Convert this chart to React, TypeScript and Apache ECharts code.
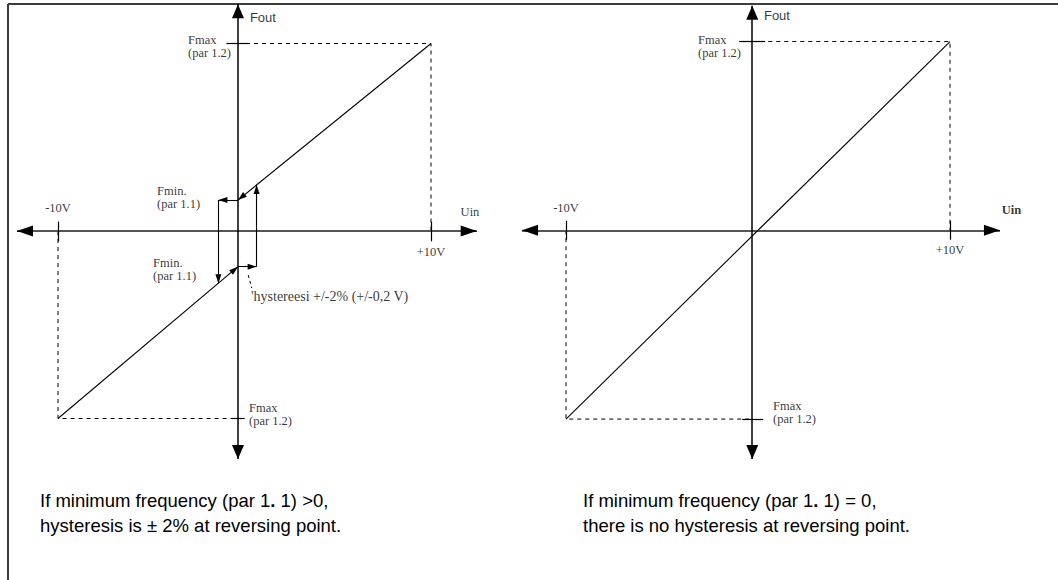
import React, { useEffect, useRef } from 'react';
import * as echarts from 'echarts';

// ---- data (diagram units: x in volts, y in Fout units where Fmax = 10) ----
const uRange = [-10, 10];
const fRange = [-10, 10];
const voltTickLabels = ['-10V', '+10V'];
const leftAxisCross = -0.35; // where the Fout axis crosses Uin (left diagram)
const rightAxisCross = -0.3;
const leftFmin = [-1.9, 1.65]; // Fmin level below / above Uin axis
const leftHyst = [-1.05, 1.0]; // hysteresis box edges relative to the Fout axis
const leftAxisXEnds = [-12.2, 12.45];
const leftAxisYEnds = [-12.16, 12.1];
const rightAxisXEnds = [-12.29, 12.6];
const rightAxisYEnds = [-12.12, 11.9];
const hystPointer = [[0.2, -2.35], [0.39, -3.04]];
const captionLeft = ['If minimum frequency (par 1{b|.} 1) >0,', 'hysteresis is ± 2% at reversing point.'];
const captionRight = ['If minimum frequency (par 1{b|.} 1) = 0,', 'there is no hysteresis at reversing point.'];

const SERIF = '"Liberation Serif", "Times New Roman", serif';
const SANS = '"Liberation Sans", Arial, sans-serif';

type P = [number, number];

function seg(from: P, to: P, o: any) {
  const style = { color: o.color || '#000', width: o.width || 1.2, type: o.type || 'solid' };
  return [
    {
      coord: from,
      symbol: o.fromArrow ? 'triangle' : 'none',
      symbolSize: o.size || [11, 15],
      symbolOffset: [0, '50%'],
      lineStyle: style,
    },
    {
      coord: to,
      symbol: o.toArrow ? 'triangle' : 'none',
      symbolSize: o.size || [11, 15],
      symbolOffset: [0, '50%'],
      lineStyle: style,
    },
  ];
}

function lbl(pos: P, text: string, extra: any = {}) {
  return {
    value: pos,
    label: {
      show: true,
      position: 'inside',
      formatter: text,
      align: extra.align || 'left',
      verticalAlign: 'middle',
      fontFamily: extra.fontFamily || SERIF,
      fontSize: extra.fontSize || 12.5,
      fontWeight: extra.fontWeight || 'normal',
      lineHeight: extra.lineHeight || 13,
      color: '#000',
    },
  };
}

// horizontal axis: gray shaft with black arrow heads at both ends
function hAxis(ends: number[]) {
  return [
    seg([ends[0], 0], [ends[1], 0], { color: '#555', width: 2.2 }),
    seg([ends[0] + 0.6, 0], [ends[0], 0], { toArrow: true, color: '#000', width: 1, size: [11, 16] }),
    seg([ends[1] - 0.6, 0], [ends[1], 0], { toArrow: true, color: '#000', width: 1, size: [11, 16] }),
  ];
}

function buildOption() {
  const [uMin, uMax] = uRange;
  const [fMinV, fMaxV] = fRange;
  const a = leftAxisCross;
  const hL = a + leftHyst[0];
  const hR = a + leftHyst[1];
  const fUp = leftFmin[1];
  const fDn = leftFmin[0];
  // points where hysteresis verticals meet the diagonals
  const yUpAtHR = fUp + (fMaxV - fUp) * (hR - a) / (uMax - a);
  const yDnAtHL = fDn + (fMinV - fDn) * (a - hL) / (a - uMin);
  const r = rightAxisCross;

  const small = [6, 9];

  const leftSegs = [
    ...hAxis(leftAxisXEnds),
    seg([a, leftAxisYEnds[0]], [a, leftAxisYEnds[1]], { fromArrow: true, toArrow: true, color: '#000', width: 1.5, size: [12, 14] }),
    // ticks
    seg([uMin, -0.55], [uMin, 0.5], { width: 1.2 }),
    seg([uMax, -0.55], [uMax, 0.5], { width: 1.2 }),
    seg([a - 0.62, fMaxV], [a + 0.6, fMaxV], { width: 1.2 }),
    seg([a - 0.34, fMinV], [a + 0.36, fMinV], { width: 1.2 }),
    // upper branch
    seg([uMax, fMaxV], [a, fUp], { toArrow: true, size: small, width: 1.1 }),
    seg([a, fUp], [hL, fUp], { toArrow: true, size: small, width: 1.1 }),
    seg([hL, fUp], [hL, yDnAtHL], { toArrow: true, size: small, width: 1.1 }),
    // lower branch
    seg([uMin, fMinV], [a, fDn], { toArrow: true, size: small, width: 1.1 }),
    seg([a, fDn], [hR, fDn], { toArrow: true, size: small, width: 1.1 }),
    seg([hR, fDn], [hR, yUpAtHR], { toArrow: true, size: small, width: 1.1 }),
    // pointer
    seg(hystPointer[0] as P, hystPointer[1] as P, { type: [3, 3], width: 1 }),
  ];

  const rightSegs = [
    ...hAxis(rightAxisXEnds),
    seg([r, rightAxisYEnds[0]], [r, rightAxisYEnds[1]], { fromArrow: true, toArrow: true, color: '#000', width: 1.5, size: [12, 14] }),
    seg([uMin, -0.5], [uMin, 0.5], { width: 1.2 }),
    seg([uMax, -0.5], [uMax, 0.5], { width: 1.2 }),
    seg([r - 0.68, fMaxV], [r + 0.67, fMaxV], { width: 1.2 }),
    seg([r - 0.52, fMinV], [r + 0.57, fMinV], { width: 1.2 }),
    seg([uMin, fMinV], [uMax, fMaxV], { width: 1.1 }),
  ];

  const leftLabels = [
    lbl([-3.03, 9.84], 'Fmax\n(par 1.2)'),
    lbl([0.24, -9.76], 'Fmax\n(par 1.2)'),
    lbl([-4.69, 1.81], 'Fmin.\n(par 1.1)'),
    lbl([-4.9, -2.03], 'Fmin.\n(par 1.1)'),
    lbl([uMin, 1.23], voltTickLabels[0], { align: 'center' }),
    lbl([uMax, -1.12], voltTickLabels[1], { align: 'center' }),
    lbl([12.09, 1.01], 'Uin', { align: 'center' }),
    lbl([0.29, 11.41], 'Fout', { fontFamily: SANS, fontSize: 13 }),
    lbl([0.35, -3.47], "'hystereesi +/-2% (+/-0,2 V)", { fontSize: 14 }),
  ];
  const rightLabels = [
    lbl([-3.125, 9.74], 'Fmax\n(par 1.2)'),
    lbl([0.78, -9.66], 'Fmax\n(par 1.2)'),
    lbl([uMin, 1.16], voltTickLabels[0], { align: 'center' }),
    lbl([uMax, -1.06], voltTickLabels[1], { align: 'center' }),
    lbl([13.2, 1.06], 'Uin', { align: 'center', fontWeight: 'bold' }),
    lbl([0.31, 11.38], 'Fout', { fontFamily: SANS, fontSize: 13 }),
  ];

  const dashed = { color: '#000', width: 1, type: [4, 4] };
  const markLine = (data: any[]) => ({
    silent: true,
    animation: false,
    label: { show: false },
    emphasis: { disabled: true },
    data,
  });

  const captionRich = {
    b: { fontFamily: SANS, fontSize: 18.5, fontWeight: 'bold', fill: '#000' },
  };

  return {
    animation: false,
    backgroundColor: '#fff',
    grid: [
      { left: 11.375, top: 0.375, width: 466.25, height: 461.25 },
      { left: 498.8, top: -0.58, width: 518.4, height: 461.16 },
    ],
    xAxis: [
      { type: 'value', gridIndex: 0, min: -12.5, max: 12.5, show: false },
      { type: 'value', gridIndex: 1, min: -13.5, max: 13.5, show: false },
    ],
    yAxis: [
      { type: 'value', gridIndex: 0, min: -12.3, max: 12.3, show: false },
      { type: 'value', gridIndex: 1, min: -12.2, max: 12.2, show: false },
    ],
    series: [
      {
        type: 'line', xAxisIndex: 0, yAxisIndex: 0, symbol: 'none', silent: true,
        lineStyle: dashed,
        data: [[a, fMaxV], [uMax, fMaxV], [uMax, 0]],
      },
      {
        type: 'line', xAxisIndex: 0, yAxisIndex: 0, symbol: 'none', silent: true,
        lineStyle: dashed,
        data: [[uMin, 0], [uMin, fMinV], [a, fMinV]],
      },
      {
        type: 'line', xAxisIndex: 1, yAxisIndex: 1, symbol: 'none', silent: true,
        lineStyle: dashed,
        data: [[r, fMaxV], [uMax, fMaxV], [uMax, 0]],
      },
      {
        type: 'line', xAxisIndex: 1, yAxisIndex: 1, symbol: 'none', silent: true,
        lineStyle: dashed,
        data: [[uMin, 0], [uMin, fMinV], [r, fMinV]],
      },
      {
        type: 'scatter', xAxisIndex: 0, yAxisIndex: 0, symbolSize: 0, silent: true, clip: false,
        data: leftLabels,
        markLine: markLine(leftSegs),
      },
      {
        type: 'scatter', xAxisIndex: 1, yAxisIndex: 1, symbolSize: 0, silent: true, clip: false,
        data: rightLabels,
        markLine: markLine(rightSegs),
      },
    ],
    graphic: [
      { type: 'line', shape: { x1: 8, y1: 4, x2: 1058, y2: 4 }, style: { stroke: '#3c3c3c', lineWidth: 2 }, silent: true },
      { type: 'line', shape: { x1: 8, y1: 4, x2: 8, y2: 580 }, style: { stroke: '#3c3c3c', lineWidth: 2 }, silent: true },
      {
        type: 'text', left: 40, top: 488, silent: true,
        style: { text: captionLeft.join('\n'), fontFamily: SANS, fontSize: 18.5, lineHeight: 25, fill: '#000', rich: captionRich },
      },
      {
        type: 'text', left: 583, top: 488, silent: true,
        style: { text: captionRight.join('\n'), fontFamily: SANS, fontSize: 18.5, lineHeight: 25, fill: '#000', rich: captionRich },
      },
    ],
  };
}

export default function App() {
  const ref = useRef<HTMLDivElement>(null);
  useEffect(() => {
    if (!ref.current) return;
    const chart = echarts.init(ref.current, undefined, { renderer: 'svg' });
    chart.setOption(buildOption() as any);
    return () => chart.dispose();
  }, []);
  return (
    <div
      ref={ref}
      style={{ position: 'absolute', left: 0, top: 0, width: 1058, height: 580, background: '#fff' }}
    />
  );
}
